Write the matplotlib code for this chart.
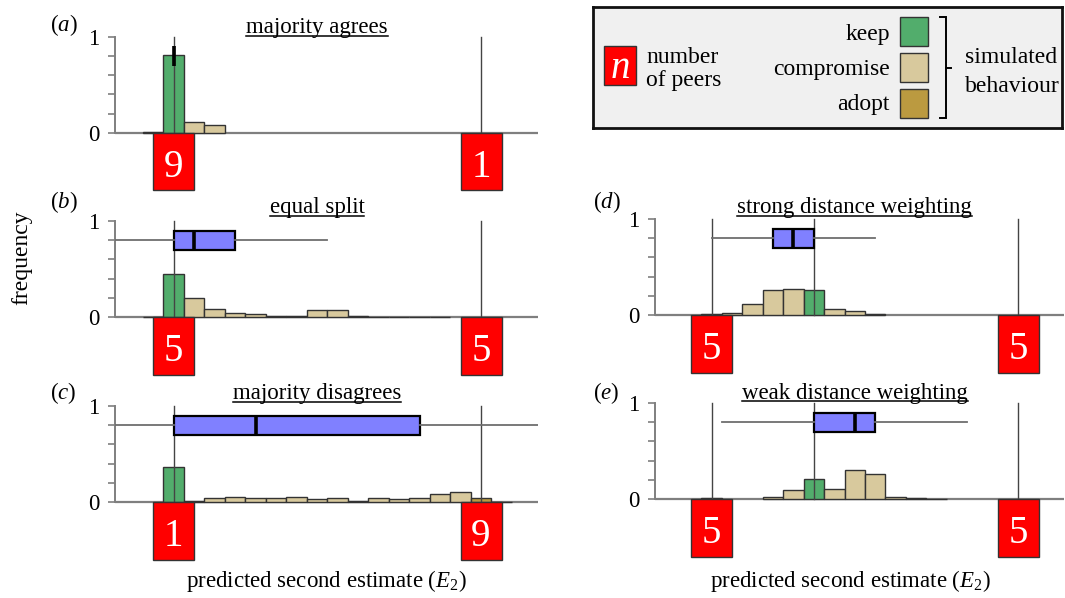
import matplotlib
matplotlib.use('Agg')
import matplotlib.pyplot as plt
from matplotlib.patches import Rectangle

plt.rcParams['font.family'] = 'Liberation Serif'
plt.rcParams['mathtext.fontset'] = 'custom'
plt.rcParams['mathtext.rm'] = 'Liberation Serif'
plt.rcParams['mathtext.it'] = 'Liberation Serif:italic'

# ---- data ----
panel_letters = ['a', 'b', 'c', 'd', 'e']
panel_titles = ['majority agrees', 'equal split', 'majority disagrees',
                'strong distance weighting', 'weak distance weighting']
peer_positions = [0, 15]
peer_counts = [(9, 1), (5, 5), (1, 9), (5, 5), (5, 5)]
own_estimate = [0, 0, 0, 5, 5]

# histogram bins (centre of each bin), frequencies and behaviour per bin
hist_bins = [
    [-1, 0, 1, 2],
    [-1, 0, 1, 2, 3, 4, 5, 6, 7, 8, 9, 10, 11, 12, 13],
    [0, 1, 2, 3, 4, 5, 6, 7, 8, 9, 10, 11, 12, 13, 14, 15, 16],
    [0, 1, 2, 3, 4, 5, 6, 7, 8],
    [0, 3, 4, 5, 6, 7, 8, 9, 10, 11],
]
hist_freq = [
    [0.006, 0.81, 0.11, 0.08],
    [0.005, 0.445, 0.20, 0.083, 0.045, 0.033, 0.012, 0.012, 0.073, 0.073,
     0.015, 0.004, 0.004, 0.004, 0.004],
    [0.36, 0.01, 0.045, 0.055, 0.042, 0.042, 0.055, 0.03, 0.042, 0.01,
     0.045, 0.035, 0.042, 0.087, 0.104, 0.045, 0.005],
    [0.008, 0.017, 0.118, 0.26, 0.274, 0.264, 0.059, 0.045, 0.007],
    [0.008, 0.02, 0.094, 0.209, 0.104, 0.303, 0.26, 0.02, 0.008, 0.005],
]
hist_kind = [
    ['compromise', 'keep', 'compromise', 'compromise'],
    ['compromise', 'keep'] + ['compromise'] * 13,
    ['keep'] + ['compromise'] * 14 + ['adopt', 'compromise'],
    ['adopt', 'compromise', 'compromise', 'compromise', 'compromise', 'keep',
     'compromise', 'compromise', 'compromise'],
    ['adopt', 'compromise', 'compromise', 'keep', 'compromise', 'compromise',
     'compromise', 'compromise', 'compromise', 'compromise'],
]
# box plot of predictions: (whisker low, q1, median, q3, whisker high)
box_stats = [
    (0, 0, 0, 0, 0),
    (-3, 0, 1, 3, 7.5),
    (-3, 0, 4, 12, 18),
    (0, 3, 4, 5, 8),
    (0.5, 5, 7, 8, 12.5),
]
behaviours = ['keep', 'compromise', 'adopt']
colours = {'keep': '#52ad6c', 'compromise': '#d8c99d', 'adopt': '#bb9a40'}

# ---- layout (pixels) ----
W, H = 1065, 598
fig = plt.figure(figsize=(W / 100, H / 100), dpi=100)


def fx(x):
    return x / W


def fy(y):
    return 1 - y / H


PX_Y = 96.0           # pixels per frequency unit
YLIM = (-0.65, 1.1)
# (spine x, x of value 0, pixels per unit, right edge)
cols = [(115, 173.5, 20.5, 538), (655, 711.7, 20.44, 1064)]
panel_pos = [(0, 132.7), (0, 317), (0, 502), (1, 315), (1, 499)]
title_base = [1.038, 1.08, 1.07, 1.062, 1.045]
letter_xy = [(50, 31), (50, 208), (50, 399), (593, 208), (593, 399)]

axes = []
for i in range(5):
    col, y0 = panel_pos[i]
    sx, zx, pu, rx = cols[col]
    top = y0 - YLIM[1] * PX_Y
    bot = y0 - YLIM[0] * PX_Y
    ax = fig.add_axes([fx(sx), fy(bot), fx(rx - sx), (bot - top) / H])
    ax.set_xlim((sx - zx) / pu, (rx - zx) / pu)
    ax.set_ylim(*YLIM)
    axes.append(ax)

for i, ax in enumerate(axes):
    ax.patch.set_visible(False)
    for s in ['top', 'right', 'bottom']:
        ax.spines[s].set_visible(False)
    ax.spines['left'].set_bounds(0, 1)
    ax.spines['left'].set_color('#7f7f7f')
    ax.spines['left'].set_linewidth(1.4)
    ax.set_xticks([])
    ax.set_yticks([0, 0.2, 0.4, 0.6, 0.8, 1.0])
    ax.set_yticklabels(['0', '', '', '', '', '1'])
    ax.tick_params(axis='y', direction='out', length=5, width=1.2,
                   color='#7f7f7f', labelsize=16.5, pad=6)
    ax.axhline(0, color='#7f7f7f', lw=1.6, zorder=1.5)

    # histogram of simulated behaviour
    bar_cols = [colours[k] for k in hist_kind[i]]
    ax.bar(hist_bins[i], hist_freq[i], width=1, color=bar_cols,
           edgecolor='#333333', linewidth=1, zorder=2)

    # vertical reference lines at the peers and own estimate
    for p in sorted(set(peer_positions + [own_estimate[i]])):
        ax.plot([p, p], [0, 1], color='#444444', lw=1, zorder=3)

    # box plot of predicted second estimates
    lo, q1, med, q3, hi = box_stats[i]
    ax.bxp([{'whislo': lo, 'q1': q1, 'med': med, 'q3': q3, 'whishi': hi,
             'fliers': []}], positions=[0.8], widths=0.2,
           orientation='horizontal', patch_artist=True, showcaps=False,
           showfliers=False, manage_ticks=False, zorder=4,
           boxprops=dict(facecolor='#8080ff', edgecolor='black', linewidth=1.6),
           whiskerprops=dict(color='#6e6e6e', linewidth=1.3),
           medianprops=dict(color='black', linewidth=2.6))

    # red boxes with number of peers
    for p, n in zip(peer_positions, peer_counts[i]):
        ax.add_patch(Rectangle((p - 1, -0.6), 2, 0.6, facecolor='#ff0000',
                               edgecolor='#333333', lw=1, zorder=3,
                               clip_on=False))
        ax.text(p, -0.46, str(n), color='white', fontsize=28, ha='center',
                va='baseline', zorder=5, clip_on=False)

    ax.text(7, title_base[i], panel_titles[i], fontsize=16.5, ha='center',
            va='baseline', clip_on=False)

    lx, ly = letter_xy[i]
    fig.text(fx(lx), fy(ly), '($\\mathit{%s}$)' % panel_letters[i],
             fontsize=16.5, ha='left', va='baseline')

# underline the panel titles
fig.canvas.draw()
for i, ax in enumerate(axes):
    t = ax.texts[-1]
    bb = t.get_window_extent()
    inv = ax.transData.inverted()
    x0 = inv.transform((bb.x0, 0))[0]
    x1 = inv.transform((bb.x1, 0))[0]
    yu = title_base[i] - 0.028
    ax.plot([x0, x1], [yu, yu], color='black', lw=1.1, clip_on=False)

fig.text(fx(22), fy(258), 'frequency', rotation=90, fontsize=17,
         ha='center', va='center')
fig.text(fx(326), fy(586.7), 'predicted second estimate ($E_2$)',
         fontsize=16.5, ha='center', va='baseline')
fig.text(fx(850), fy(586.7), 'predicted second estimate ($E_2$)',
         fontsize=16.5, ha='center', va='baseline')

# ---- legend box ----
LX0, LY0, LX1, LY1 = 592.7, 7, 1061.7, 128
leg = fig.add_axes([fx(LX0), fy(LY1), fx(LX1 - LX0), (LY1 - LY0) / H])
leg.set_xlim(LX0, LX1)
leg.set_ylim(LY1, LY0)
leg.set_xticks([])
leg.set_yticks([])
leg.set_facecolor('#f0f0f0')
for s in leg.spines.values():
    s.set_linewidth(2)
    s.set_color('#111111')

leg.add_patch(Rectangle((604, 46), 32, 39, facecolor='#ff0000',
                        edgecolor='#333333', lw=1))
leg.text(620, 78, '$\\mathit{n}$', color='white', fontsize=28,
         ha='center', va='baseline')
leg.text(646, 62.7, 'number', fontsize=17, ha='left', va='baseline')
leg.text(646, 86, 'of peers', fontsize=17, ha='left', va='baseline')

sw_top = [16.7, 53.3, 89.3]
lab_base = [40, 75.5, 110]
for b, yt, yb in zip(behaviours, sw_top, lab_base):
    leg.add_patch(Rectangle((900, yt), 28.3, 29, facecolor=colours[b],
                            edgecolor='#333333', lw=1))
    leg.text(890, yb, b, fontsize=17, ha='right', va='baseline')

# bracket grouping the behaviours
leg.plot([940, 946, 946, 940], [16.7, 16.7, 118.3, 118.3], color='black',
         lw=1.4, solid_joinstyle='miter')
leg.plot([946, 951], [67.5, 67.5], color='black', lw=1.4)
leg.text(965, 63, 'simulated', fontsize=17, ha='left', va='baseline')
leg.text(965, 91.7, 'behaviour', fontsize=17, ha='left', va='baseline')

fig.savefig('out.png', dpi=100)
